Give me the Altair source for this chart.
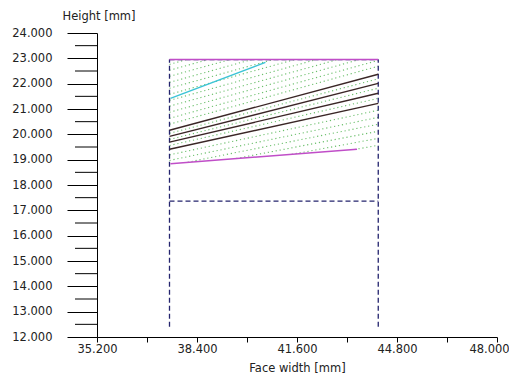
import altair as alt
import pandas as pd

# ---- axis ticks ----
y_major = [12, 13, 14, 15, 16, 17, 18, 19, 20, 21, 22, 23, 24]
y_minor = [12.5, 13.5, 14.5, 15.5, 16.5, 17.5, 18.5, 19.5, 20.5, 21.5, 22.5, 23.5]
x_ticks = [35.2, 36.8, 38.4, 40.0, 41.6, 43.2, 44.8, 46.4, 48.0]

# ---- dashed frame (left, right, middle, top) ----
frame_x0 = [37.52, 44.20, 37.52, 37.52]
frame_y0 = [12.40, 12.40, 17.36, 22.95]
frame_x1 = [37.52, 44.20, 44.20, 44.20]
frame_y1 = [22.95, 22.95, 17.36, 22.95]

# ---- magenta boundaries (top, bottom) ----
mag_x0 = [37.52, 37.55]
mag_y0 = [22.95, 18.84]
mag_x1 = [44.20, 43.52]
mag_y1 = [22.95, 19.41]

# ---- cyan line ----
cyan_x0 = [37.55]
cyan_y0 = [21.42]
cyan_x1 = [40.59]
cyan_y1 = [22.84]

# ---- dark solid lines ----
dark_x0 = [37.52, 37.52, 37.52, 37.52]
dark_y0 = [20.16, 19.92, 19.69, 19.41]
dark_x1 = [44.20, 44.20, 44.20, 44.20]
dark_y1 = [22.37, 22.01, 21.62, 21.22]

# ---- green dotted lines ----
dot_x0 = [37.52, 37.52, 37.52, 37.52, 37.52, 37.52, 37.52, 37.52, 37.52, 37.52, 37.52,
          37.52, 37.52, 37.52,
          37.52, 37.52, 38.10, 39.66, 41.43, 43.44]
dot_y0 = [20.40, 20.63, 20.87, 21.11, 21.34, 21.58, 21.82, 22.05, 22.29, 22.53, 22.76,
          20.04, 19.80, 19.56,
          19.19, 18.97, 18.90, 19.05, 19.21, 19.40]
dot_x1 = [44.20, 44.20, 43.59, 42.90, 42.21, 41.52, 40.83, 40.14, 39.45, 38.76, 38.06,
          44.20, 44.20, 44.20,
          44.20, 44.20, 44.20, 44.20, 44.20, 44.20]
dot_y1 = [22.69, 22.92, 22.95, 22.95, 22.95, 22.95, 22.95, 22.95, 22.95, 22.95, 22.95,
          22.19, 21.82, 21.42,
          20.95, 20.67, 20.40, 20.12, 19.84, 19.57]

FONT = "DejaVu Sans"
FS = 11.5

xscale = alt.Scale(domain=[35.2, 48.0], nice=False, zero=False)
yscale = alt.Scale(domain=[12, 24], nice=False, zero=False)

xaxis = alt.Axis(
    values=x_ticks, format=".3f",
    labelExpr="round((datum.value - 35.2) / 1.6) % 2 == 0 ? format(datum.value, '.3f') : ''",
    labelOffset=alt.ConditionalAxisNumber(
        condition={"test": "datum.value > 47.9", "value": -8}, value=0
    ),
    tickSize=5, labelPadding=1, labelFlush=False, labelOverlap=False,
    grid=False, domainColor="black", tickColor="black",
    labelFont=FONT, labelFontSize=FS, labelColor="#222",
    title="Face width [mm]", titleFont=FONT, titleFontSize=FS, titleFontWeight="normal",
    titleColor="#222", titleX=200, titleY=34, titleBaseline="alphabetic", titleAlign="center",
)
yaxis = alt.Axis(
    values=y_major, format=".3f",
    tickSize=30, labelPadding=15, labelFlush=False, labelOverlap=False,
    grid=False, domainColor="black", tickColor="black",
    labelFont=FONT, labelFontSize=FS, labelColor="#222",
    title="Height [mm]", titleFont=FONT, titleFontSize=FS, titleFontWeight="normal",
    titleColor="#222", titleAngle=0, titleX=-35, titleY=-17, titleAlign="left",
    titleBaseline="middle",
)


def seg_layer(x0, y0, x1, y1, **mark):
    df = pd.DataFrame({"x": x0, "y": y0, "x2": x1, "y2": y1})
    return alt.Chart(df).mark_rule(**mark).encode(
        x=alt.X("x:Q", scale=xscale, axis=xaxis),
        y=alt.Y("y:Q", scale=yscale, axis=yaxis),
        x2="x2:Q",
        y2="y2:Q",
    )


minor = alt.Chart(pd.DataFrame({"y": y_minor})).mark_rule(color="black", strokeWidth=1).encode(
    y=alt.Y("y:Q", scale=yscale, axis=yaxis),
    x=alt.value(-22),
    x2=alt.value(0),
)

dotted = seg_layer(dot_x0, dot_y0, dot_x1, dot_y1, color="#6cbf6c", strokeWidth=1.1,
                   strokeDash=[1.2, 2.8])
frame = seg_layer(frame_x0, frame_y0, frame_x1, frame_y1, color="#24246e", strokeWidth=1.3,
                  strokeDash=[5, 3])
dark = seg_layer(dark_x0, dark_y0, dark_x1, dark_y1, color="#3a2626", strokeWidth=1.4)
cyan = seg_layer(cyan_x0, cyan_y0, cyan_x1, cyan_y1, color="#3cc4d6", strokeWidth=1.5)
mag = seg_layer(mag_x0, mag_y0, mag_x1, mag_y1, color="#c04ec8", strokeWidth=1.5)

chart = alt.layer(minor, dotted, frame, dark, cyan, mag).properties(
    width=400,
    height=304,
    autosize=alt.AutoSizeParams(type="none"),
    padding={"left": 89, "top": 25, "right": 12, "bottom": 39},
).configure_view(stroke=None)

chart.save("out.html", embed_options={"renderer": "svg", "actions": False})
